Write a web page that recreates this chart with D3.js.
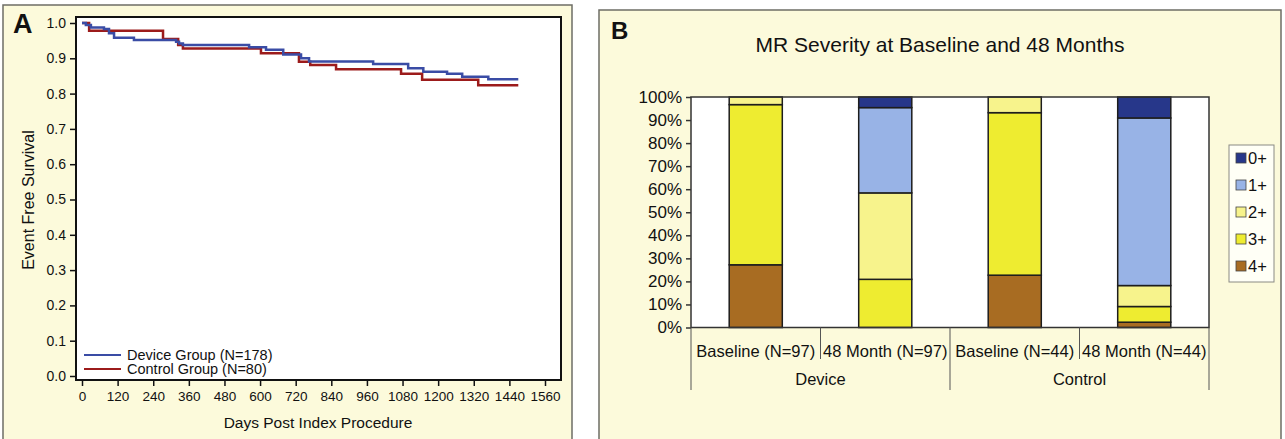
<!DOCTYPE html>
<html>
<head>
<meta charset="utf-8">
<script src="https://cdn.jsdelivr.net/npm/d3@7/dist/d3.min.js"></script>
<style>
  body { margin: 0; background: #fff; }
  text { font-family: "Liberation Sans", Arial, sans-serif; fill: #111; }
</style>
</head>
<body>
<div id="chart"></div>
<script>
// panel A - Kaplan-Meier style curves (days, survival), step after
var deviceDays = [0, 13, 30, 74, 91, 108, 175, 317, 327, 340, 563, 620, 678, 738, 765, 981, 1099, 1150, 1230, 1281, 1369, 1470];
var deviceSurv = [1.0, 0.994, 0.987, 0.983, 0.971, 0.958, 0.952, 0.947, 0.942, 0.938, 0.931, 0.924, 0.911, 0.900, 0.891, 0.884, 0.872, 0.862, 0.856, 0.848, 0.841, 0.841];
var controlDays = [0, 24, 273, 324, 340, 603, 731, 769, 856, 1075, 1146, 1335, 1470];
var controlSurv = [1.0, 0.978, 0.955, 0.938, 0.928, 0.914, 0.890, 0.881, 0.869, 0.856, 0.839, 0.824, 0.824];
var dayTicks = [0, 120, 240, 360, 480, 600, 720, 840, 960, 1080, 1200, 1320, 1440, 1560];
var survTicks = [0, 0.1, 0.2, 0.3, 0.4, 0.5, 0.6, 0.7, 0.8, 0.9, 1.0];
var curveNames = ["Device Group (N=178)", "Control Group (N=80)"];

// panel B - MR severity (% of patients)
var mrGroups = ["Device", "Control"];
var mrBars = ["Baseline (N=97)", "48 Month (N=97)", "Baseline (N=44)", "48 Month (N=44)"];
var mrGrades = ["4+", "3+", "2+", "1+", "0+"];
var grade4 = [27.2, 0, 22.7, 2.3];
var grade3 = [69.5, 20.9, 70.5, 6.8];
var grade2 = [3.3, 37.5, 6.8, 9.1];
var grade1 = [0, 37.0, 0, 72.7];
var grade0 = [0, 4.6, 0, 9.1];
var pctTicks = [0, 10, 20, 30, 40, 50, 60, 70, 80, 90, 100];

var W = 1285, H = 439;
var bg = "#fcfadb";

var svg = d3.select("#chart").append("svg").attr("width", W).attr("height", H);

// panel frames
svg.append("rect").attr("x", 3).attr("y", 5).attr("width", 569).attr("height", 450)
  .attr("fill", bg).attr("stroke", "#6d6d66").attr("stroke-width", 1.5);
svg.append("rect").attr("x", 599).attr("y", 10).attr("width", 682).attr("height", 450)
  .attr("fill", bg).attr("stroke", "#6d6d66").attr("stroke-width", 1.5);

// ---------- Panel A ----------
var xA = d3.scaleLinear().domain([0, 1560]).range([82, 545]);
var yA = d3.scaleLinear().domain([0, 1]).range([376, 23]);

svg.append("rect").attr("x", 76).attr("y", 17).attr("width", 485).attr("height", 363)
  .attr("fill", "#fff");

svg.append("g").attr("transform", "translate(0,380)")
  .call(d3.axisBottom(xA).tickValues(dayTicks).tickFormat(d3.format("d")).tickSize(6).tickSizeOuter(0).tickPadding(5))
  .call(g => g.select(".domain").remove())
  .call(g => g.selectAll("line").attr("stroke", "#111").attr("stroke-width", 1.5))
  .call(g => g.selectAll("text").attr("font-size", 13.5).attr("fill", "#111"));

svg.append("g").attr("transform", "translate(76,0)")
  .call(d3.axisLeft(yA).tickValues(survTicks).tickFormat(d3.format(".1f")).tickSize(6).tickPadding(4))
  .call(g => g.select(".domain").remove())
  .call(g => g.selectAll("line").attr("stroke", "#111").attr("stroke-width", 1.5))
  .call(g => g.selectAll("text").attr("font-size", 14).attr("fill", "#111"));

var stepLine = d3.line().x(d => xA(d[0])).y(d => yA(d[1])).curve(d3.curveStepAfter);
var curves = [
  { name: curveNames[0], color: "#3a4ca5", pts: d3.zip(deviceDays, deviceSurv) },
  { name: curveNames[1], color: "#9c1b1b", pts: d3.zip(controlDays, controlSurv) }
];
// draw control first so device sits on top
svg.append("path").datum(curves[1].pts).attr("d", stepLine)
  .attr("fill", "none").attr("stroke", curves[1].color).attr("stroke-width", 2.5);
svg.append("path").datum(curves[0].pts).attr("d", stepLine)
  .attr("fill", "none").attr("stroke", curves[0].color).attr("stroke-width", 2.5);

svg.append("rect").attr("x", 76).attr("y", 17).attr("width", 485).attr("height", 363)
  .attr("fill", "none").attr("stroke", "#111").attr("stroke-width", 2);

// legend A
curves.forEach(function(c, i) {
  var y = 355 + i * 14;
  svg.append("line").attr("x1", 84).attr("x2", 121).attr("y1", y).attr("y2", y)
    .attr("stroke", c.color).attr("stroke-width", 2);
  svg.append("text").attr("x", 127).attr("y", y + 5).attr("font-size", 14.5).text(c.name);
});

svg.append("text").attr("x", 318).attr("y", 428).attr("text-anchor", "middle")
  .attr("font-size", 15.5).text("Days Post Index Procedure");
svg.append("text").attr("transform", "translate(34,200) rotate(-90)").attr("text-anchor", "middle")
  .attr("font-size", 16).text("Event Free Survival");
svg.append("text").attr("x", 13).attr("y", 33).attr("font-size", 27).attr("font-weight", "bold").text("A");

// ---------- Panel B ----------
var xB = d3.scaleBand().domain(mrBars).range([691, 1209]).paddingInner(0.59).paddingOuter(0.295);
var yB = d3.scaleLinear().domain([0, 100]).range([327.5, 97]);
var gradeColors = { "4+": "#a86c22", "3+": "#eeec30", "2+": "#f7f38c", "1+": "#98b3e6", "0+": "#27378a" };

svg.append("rect").attr("x", 691).attr("y", 97).attr("width", 518).attr("height", 230.5)
  .attr("fill", "#fff");

var rows = mrBars.map(function(b, i) {
  return { bar: b, "4+": grade4[i], "3+": grade3[i], "2+": grade2[i], "1+": grade1[i], "0+": grade0[i] };
});
var stacked = d3.stack().keys(mrGrades)(rows);

svg.append("g").selectAll("g").data(stacked).enter().append("g")
  .attr("fill", d => gradeColors[d.key])
  .selectAll("rect").data(d => d.filter(s => s[1] - s[0] > 0)).enter().append("rect")
  .attr("x", d => xB(d.data.bar))
  .attr("width", xB.bandwidth())
  .attr("y", d => yB(d[1]))
  .attr("height", d => yB(d[0]) - yB(d[1]))
  .attr("stroke", "#1d1d1d").attr("stroke-width", 1.5);

svg.append("rect").attr("x", 691).attr("y", 97).attr("width", 518).attr("height", 230.5)
  .attr("fill", "none").attr("stroke", "#333").attr("stroke-width", 1.5);

svg.append("g").attr("transform", "translate(691,0)")
  .call(d3.axisLeft(yB).tickValues(pctTicks).tickFormat(d => d + "%").tickSize(5).tickPadding(4))
  .call(g => g.select(".domain").remove())
  .call(g => g.selectAll("line").attr("stroke", "#333").attr("stroke-width", 1.5))
  .call(g => g.selectAll("text").attr("font-size", 17).attr("fill", "#111"));

// category axis: bar labels and group labels with divider lines
var step = xB.step();
mrBars.forEach(function(b, i) {
  svg.append("text").attr("x", xB(b) + xB.bandwidth() / 2).attr("y", 357)
    .attr("text-anchor", "middle").attr("font-size", 16.5).text(b);
});
d3.range(5).forEach(function(i) {
  var x = 691 + i * step;
  svg.append("line").attr("x1", x).attr("x2", x).attr("y1", 327.5).attr("y2", i % 2 ? 359 : 390)
    .attr("stroke", "#555").attr("stroke-width", 1);
});
mrGroups.forEach(function(g, i) {
  svg.append("text").attr("x", 691 + step * (2 * i + 1)).attr("y", 385)
    .attr("text-anchor", "middle").attr("font-size", 16.5).text(g);
});

// legend B
svg.append("rect").attr("x", 1229).attr("y", 145).attr("width", 45).attr("height", 137)
  .attr("fill", "#fffff6").attr("stroke", "#8a8a84").attr("stroke-width", 1);
mrGrades.slice().reverse().forEach(function(k, i) {
  var y = 158 + i * 27;
  svg.append("rect").attr("x", 1236).attr("y", y - 5).attr("width", 10).attr("height", 10)
    .attr("fill", gradeColors[k]).attr("stroke", "#444").attr("stroke-width", 0.8);
  svg.append("text").attr("x", 1248).attr("y", y + 6).attr("font-size", 16.5).text(k);
});

svg.append("text").attr("x", 940).attr("y", 52).attr("text-anchor", "middle")
  .attr("font-size", 21).text("MR Severity at Baseline and 48 Months");
svg.append("text").attr("x", 611).attr("y", 39).attr("font-size", 24).attr("font-weight", "bold").text("B");
</script>
</body>
</html>
